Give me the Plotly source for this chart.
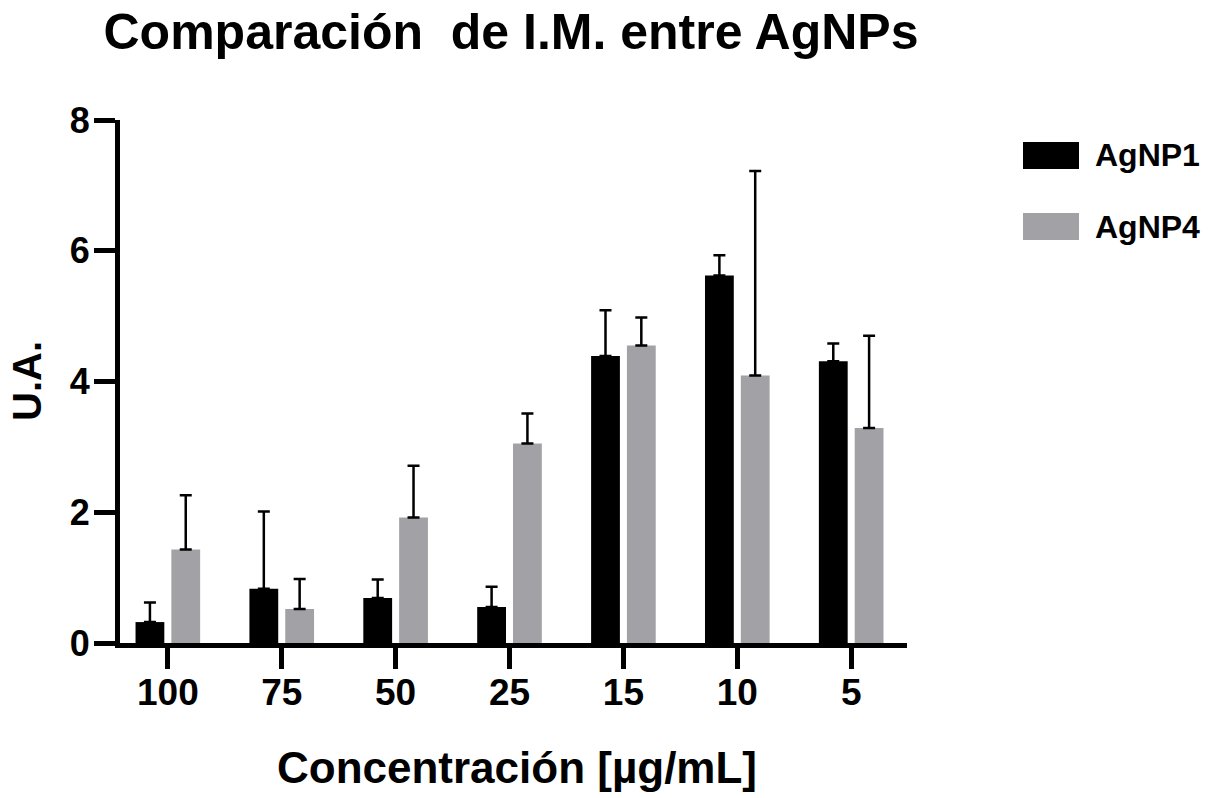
import plotly.graph_objects as go

# Concentrations (µg/mL) shown on the category axis
concentrations = ["100", "75", "50", "25", "15", "10", "5"]

# Mean index values (U.A.) and their standard deviations
agnp1_mean = [0.32, 0.83, 0.69, 0.55, 4.39, 5.62, 4.31]
agnp1_sd = [0.30, 1.18, 0.28, 0.31, 0.70, 0.31, 0.27]
agnp4_mean = [1.43, 0.52, 1.92, 3.05, 4.55, 4.09, 3.29]
agnp4_sd = [0.83, 0.46, 0.79, 0.46, 0.43, 3.13, 1.41]

series_names = ["AgNP1", "AgNP4"]
series_colors = ["#000000", "#A2A1A6"]

y_ticks = [0, 2, 4, 6, 8]

FONT = "Liberation Sans, Arial, Helvetica, sans-serif"

W, H = 1215, 798
M_L, M_R, M_T, M_B = 120, 308, 120, 155
PLOT_W = W - M_L - M_R
PLOT_H = H - M_T - M_B


def px_to_paper_x(px):
    return (px - M_L) / PLOT_W


def px_to_paper_y(py):
    return (H - M_B - py) / PLOT_H


fig = go.Figure()

for name, color, means, sds in [
    (series_names[0], series_colors[0], agnp1_mean, agnp1_sd),
    (series_names[1], series_colors[1], agnp4_mean, agnp4_sd),
]:
    fig.add_trace(
        go.Bar(
            x=concentrations,
            y=means,
            name=name,
            marker=dict(color=color, line=dict(width=0)),
            error_y=dict(
                type="data",
                symmetric=False,
                array=sds,
                arrayminus=[0] * len(sds),
                color="#000000",
                thickness=2.5,
                width=6,
            ),
            showlegend=False,
        )
    )

# Legend drawn as large swatches beside the plot
legend_rows = [(142, 169), (213, 240)]
for (top, bottom), name, color in zip(legend_rows, series_names, series_colors):
    fig.add_shape(
        type="rect",
        xref="paper", yref="paper",
        x0=px_to_paper_x(1023), x1=px_to_paper_x(1079),
        y0=px_to_paper_y(bottom), y1=px_to_paper_y(top),
        fillcolor=color, line=dict(width=0),
    )
    fig.add_annotation(
        xref="paper", yref="paper",
        x=px_to_paper_x(1093), y=px_to_paper_y((top + bottom) / 2),
        xanchor="left", yanchor="middle",
        text=name, showarrow=False,
        font=dict(family=FONT, size=32, color="#000000", weight="bold"),
    )

# Axis titles
fig.add_annotation(
    xref="paper", yref="paper",
    x=px_to_paper_x(517), y=px_to_paper_y(767),
    xanchor="center", yanchor="middle",
    text="Concentración [µg/mL]", showarrow=False,
    font=dict(family=FONT, size=44, color="#000000", weight="bold"),
)
fig.add_annotation(
    xref="paper", yref="paper",
    x=px_to_paper_x(27), y=px_to_paper_y(381),
    xanchor="center", yanchor="middle",
    text="U.A.", textangle=-90, showarrow=False,
    font=dict(family=FONT, size=40, color="#000000", weight="bold"),
)

fig.update_layout(
    template="none",
    width=W,
    height=H,
    margin=dict(l=M_L, r=M_R, t=M_T, b=M_B, autoexpand=False),
    paper_bgcolor="#FFFFFF",
    plot_bgcolor="#FFFFFF",
    barmode="group",
    bargap=0.371,
    bargroupgap=0.196,
    title=dict(
        text="Comparación&nbsp;&nbsp;de I.M. entre AgNPs",
        xref="container", yref="container",
        x=511 / W, y=1 - 31 / H,
        xanchor="center", yanchor="middle",
        font=dict(family=FONT, size=50, color="#000000", weight="bold"),
    ),
    xaxis=dict(
        type="category",
        categoryorder="array",
        categoryarray=concentrations,
        range=[-0.42, 6.49],
        showline=True, linewidth=5, linecolor="#000000",
        ticks="outside", ticklen=21, tickwidth=5, tickcolor="#000000",
        showgrid=False, zeroline=False,
        tickfont=dict(family=FONT, size=37, color="#000000", weight="bold"),
        ticklabelstandoff=-8,
    ),
    yaxis=dict(
        range=[0, 8],
        tickvals=y_ticks,
        ticktext=[str(v) for v in y_ticks],
        showline=True, linewidth=5, linecolor="#000000",
        ticks="outside", ticklen=21, tickwidth=5, tickcolor="#000000",
        showgrid=False, zeroline=False,
        tickfont=dict(family=FONT, size=36, color="#000000", weight="bold"),
        ticklabelstandoff=-3,
    ),
)

fig.write_html("out.html")
